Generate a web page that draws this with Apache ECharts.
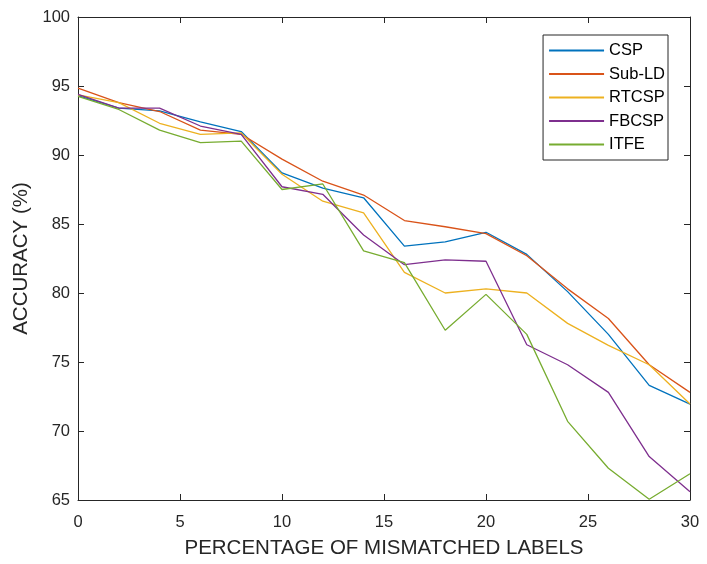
<!DOCTYPE html>
<html>
<head>
<meta charset="utf-8">
<script src="https://cdn.jsdelivr.net/npm/echarts@6/dist/echarts.min.js"></script>
<style>
  html, body { margin: 0; padding: 0; background: #fff; }
  #chart { width: 707px; height: 564px; }
</style>
</head>
<body>
<div id="chart"></div>
<script>
// percentage of mismatched labels
var mismatch = [0, 2, 4, 6, 8, 10, 12, 14, 16, 18, 20, 22, 24, 26, 28, 30];

// accuracy (%) per method
var csp    = [94.3, 93.4, 93.2, 92.4, 91.7, 88.7, 87.6, 86.9, 83.4, 83.7, 84.4, 82.8, 80.1, 77.0, 73.3, 71.95];
var subLD  = [94.85, 93.8, 93.15, 91.8, 91.5, 89.7, 88.1, 87.1, 85.25, 84.8, 84.3, 82.7, 80.3, 78.15, 74.8, 72.8];
var rtcsp  = [94.35, 93.8, 92.3, 91.5, 91.6, 88.6, 86.65, 85.8, 81.5, 80.0, 80.3, 80.0, 77.8, 76.2, 74.8, 71.95];
var fbcsp  = [94.4, 93.4, 93.4, 92.1, 91.5, 87.7, 87.15, 84.2, 82.05, 82.4, 82.3, 76.25, 74.8, 72.8, 68.15, 65.6];
var itfe   = [94.25, 93.3, 91.8, 90.9, 91.0, 87.5, 87.9, 83.05, 82.2, 77.3, 79.9, 77.0, 70.7, 67.3, 65.05, 66.9];

var names  = ['CSP', 'Sub-LD', 'RTCSP', 'FBCSP', 'ITFE'];
var colors = ['#0072BD', '#D95319', '#EDB120', '#7E2F8E', '#77AC30'];
var values = [csp, subLD, rtcsp, fbcsp, itfe];

var font = 'Liberation Sans, Arial, Helvetica, sans-serif';
var axisColor = '#262626';

function pairs(arr) {
  return mismatch.map(function (x, i) { return [x, arr[i]]; });
}

var series = names.map(function (n, i) {
  return {
    name: n,
    type: 'line',
    data: pairs(values[i]),
    showSymbol: false,
    symbol: 'none',
    lineStyle: { color: colors[i], width: 1.3 },
    itemStyle: { color: colors[i] },
    z: 2 + i
  };
});

var chart = echarts.init(document.getElementById('chart'));

var option = {
  animation: false,
  backgroundColor: '#fff',
  grid: { left: 78, right: 17, top: 17, bottom: 63, containLabel: false },
  legend: {
    orient: 'vertical',
    right: 39,
    top: 35,
    itemWidth: 55,
    itemHeight: 2,
    itemGap: 6.5,
    padding: [7, 3, 7, 6],
    borderColor: axisColor,
    borderWidth: 1,
    backgroundColor: '#fff',
    icon: 'rect',
    textStyle: { fontFamily: font, fontSize: 16.5, color: '#000' },
    data: names
  },
  xAxis: [{
    type: 'value',
    min: 0,
    max: 30,
    interval: 5,
    name: 'PERCENTAGE OF MISMATCHED LABELS',
    nameLocation: 'middle',
    nameGap: 38,
    nameTextStyle: { fontFamily: font, fontSize: 20.5, color: '#262626' },
    axisLine: { show: true, lineStyle: { color: axisColor, width: 1 } },
    axisTick: { show: true, inside: true, length: 6, lineStyle: { color: axisColor } },
    axisLabel: { fontFamily: font, fontSize: 16.5, color: '#262626', margin: 14 },
    splitLine: { show: false }
  }, {
    type: 'value',
    position: 'top',
    min: 0,
    max: 30,
    interval: 5,
    axisLine: { show: true, onZero: false, lineStyle: { color: axisColor, width: 1 } },
    axisTick: { show: true, inside: true, length: 6, lineStyle: { color: axisColor } },
    axisLabel: { show: false },
    splitLine: { show: false }
  }],
  yAxis: [{
    type: 'value',
    min: 65,
    max: 100,
    interval: 5,
    name: 'ACCURACY (%)',
    nameLocation: 'middle',
    nameGap: 46,
    nameTextStyle: { fontFamily: font, fontSize: 20.5, color: '#262626' },
    axisLine: { show: true, lineStyle: { color: axisColor, width: 1 } },
    axisTick: { show: true, inside: true, length: 6, lineStyle: { color: axisColor } },
    axisLabel: { fontFamily: font, fontSize: 16.5, color: '#262626', margin: 8 },
    splitLine: { show: false }
  }, {
    type: 'value',
    position: 'right',
    min: 65,
    max: 100,
    interval: 5,
    axisLine: { show: true, onZero: false, lineStyle: { color: axisColor, width: 1 } },
    axisTick: { show: true, inside: true, length: 6, lineStyle: { color: axisColor } },
    axisLabel: { show: false },
    splitLine: { show: false }
  }],
  series: series
};

chart.setOption(option);
</script>
</body>
</html>
